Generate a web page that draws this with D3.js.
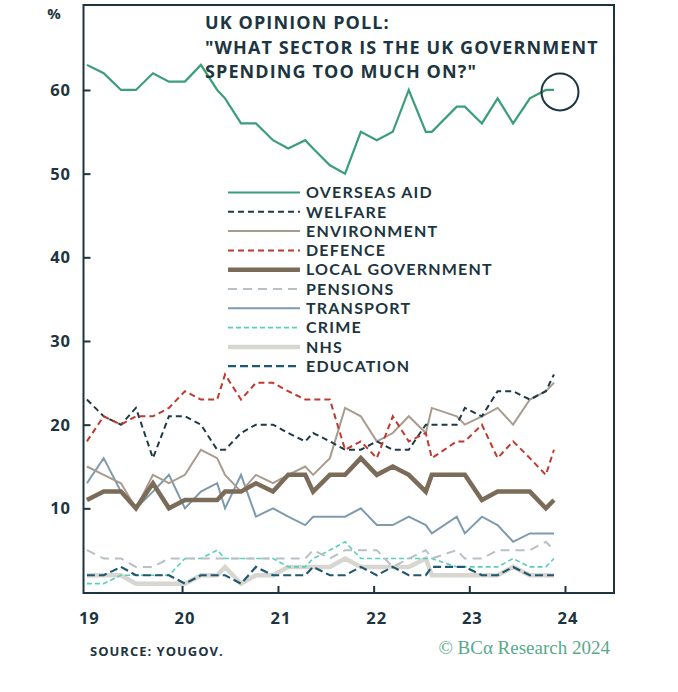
<!DOCTYPE html>
<html>
<head>
<meta charset="utf-8">
<script src="https://cdn.jsdelivr.net/npm/d3@7"></script>
<style>
  html, body { margin: 0; padding: 0; background: #ffffff; }
  svg { display: block; }
</style>
</head>
<body>
<svg id="chart" width="678" height="692"></svg>
<script>
// ---------- DATA ----------
const dates = ["2019-01-03","2019-03-08","2019-05-13","2019-07-09","2019-09-12","2019-11-12",
  "2020-01-12","2020-03-13","2020-05-14","2020-06-13","2020-08-13","2020-10-09","2020-12-13",
  "2021-02-09","2021-04-15","2021-05-15","2021-07-18","2021-09-14","2021-11-13",
  "2022-01-13","2022-03-15","2022-05-15","2022-07-19","2022-08-11","2022-11-14","2022-12-15",
  "2023-02-18","2023-04-19","2023-06-17","2023-08-20","2023-10-20","2023-11-20"];

const overseasAid   = [63,62,60,60,62,61,61,63,60,59,56,56,54,53,54,53,51,50,55,54,55,60,55,55,58,58,56,59,56,59,60,60];
const welfare       = [23,21,20,22,16,21,21,20,17,17,19,20,20,19,18,19,18,17,17,18,17,17,20,20,20,22,21,24,24,23,24,26];
const environment   = [15,14,13,10,14,13,14,17,16,14,12,14,13,14,15,14,16,22,21,18,19,21,19,22,21,20,21,22,20,23,24,25];
const defence       = [18,21,20,21,21,22,24,23,23,26,23,25,25,24,23,23,23,17,18,16,21,18,19,16,18,18,20,16,18,16,14,17];
const localGov      = [11,12,12,10,13,10,11,11,11,12,12,13,12,14,14,12,14,14,16,14,15,14,12,14,14,14,11,12,12,12,10,11];
const pensions      = [5,4,4,3,3,4,4,4,4,4,4,4,4,4,4,5,4,5,5,5,3,4,5,4,5,4,4,5,5,5,6,5];
const transport     = [13,16,12,10,12,14,10,12,13,10,14,9,10,9,8,9,9,9,10,8,8,9,8,7,9,7,9,8,6,7,7,7];
const crime         = [1,1,2,2,2,2,4,4,5,4,4,4,4,3,3,4,5,6,4,4,4,4,4,4,3,3,3,3,4,3,3,4];
const nhs           = [2,2,2,1,1,1,1,2,2,3,1,2,2,3,3,3,3,4,3,3,3,3,4,2,2,2,2,2,3,2,2,2];
const education     = [2,2,3,2,2,2,1,2,2,2,1,3,2,2,2,3,2,2,3,2,3,2,2,3,3,3,2,2,3,2,2,2];

const yTicks = [10,20,30,40,50,60];
const xTickYears = ["2019","2020","2021","2022","2023","2024"];
const xTickLabels = ["19","20","21","22","23","24"];

const seriesNames = ["OVERSEAS AID","WELFARE","ENVIRONMENT","DEFENCE","LOCAL GOVERNMENT",
  "PENSIONS","TRANSPORT","CRIME","NHS","EDUCATION"];
const seriesValues = [overseasAid, welfare, environment, defence, localGov,
  pensions, transport, crime, nhs, education];

// ---------- STYLES ----------
const styles = [
  {color:"#3a9f78", width:2.2, dash:null},
  {color:"#1e3a44", width:2, dash:"6,4"},
  {color:"#a99b8d", width:2, dash:null},
  {color:"#c0392e", width:2, dash:"6,4"},
  {color:"#7b6b59", width:4.5, dash:null},
  {color:"#b8c0c5", width:2, dash:"9,6"},
  {color:"#7e9bae", width:2, dash:null},
  {color:"#58d0b9", width:1.6, dash:"5,3"},
  {color:"#d8d6d0", width:4.5, dash:null},
  {color:"#1f5870", width:2.2, dash:"8,4"}
];
const drawOrder = [8,7,5,9,6,2,4,1,3,0];

const textColor = "#1d3540";
const sans = "'Open Sans', Lato, sans-serif";
const parse = d3.timeParse("%Y-%m-%d");
const dateObjs = dates.map(parse);

const svg = d3.select("#chart");
const plotL = 83.5, plotR = 614, plotT = 5, plotB = 593;

const x = d3.scaleTime()
  .domain([parse("2018-12-21"), parse("2024-07-06")])
  .range([plotL, plotR]);
const y = d3.scaleLinear().domain([0, 70]).range([592, 6.3]);

// frame
svg.append("rect")
  .attr("x", plotL).attr("y", plotT)
  .attr("width", plotR - plotL).attr("height", plotB - plotT)
  .attr("fill", "none").attr("stroke", textColor).attr("stroke-width", 2);

// y axis (inner ticks)
const yAxis = d3.axisRight(y).tickValues(yTicks).tickSize(7).tickFormat("");
const gy = svg.append("g").attr("transform", `translate(${plotL},0)`).call(yAxis);
gy.select(".domain").remove();
gy.selectAll("line").attr("stroke", textColor).attr("stroke-width", 2);

svg.append("g").selectAll("text").data(yTicks).join("text")
  .attr("x", 71).attr("y", d => y(d)).attr("dy", "0.36em")
  .attr("text-anchor", "end").attr("fill", textColor)
  .style("font-family", sans).style("font-size", "16.5px").style("font-weight", 700)
  .style("letter-spacing", "1px")
  .text(d => d);
svg.append("text").attr("x", 54).attr("y", 19).attr("text-anchor", "middle")
  .attr("fill", textColor)
  .style("font-family", sans).style("font-size", "15px").style("font-weight", 700)
  .text("%");

// x axis (inner ticks)
const xTickDates = xTickYears.map(d => parse(d + "-01-01"));
const xAxis = d3.axisTop(x).tickValues(xTickDates.slice(1)).tickSize(7).tickFormat("");
const gx = svg.append("g").attr("transform", `translate(0,${plotB})`).call(xAxis);
gx.select(".domain").remove();
gx.selectAll("line").attr("stroke", textColor).attr("stroke-width", 2);

svg.append("g").selectAll("text").data(xTickDates).join("text")
  .attr("x", d => x(d) + 3).attr("y", 624)
  .attr("text-anchor", "middle").attr("fill", textColor)
  .style("font-family", sans).style("font-size", "16.5px").style("font-weight", 700)
  .style("letter-spacing", "1px")
  .text((d, i) => xTickLabels[i]);

// lines
const line = d3.line().x((d, i) => x(dateObjs[i])).y(d => y(d));
const gl = svg.append("g");
drawOrder.forEach(k => {
  const s = styles[k];
  gl.append("path").datum(seriesValues[k])
    .attr("d", line).attr("fill", "none")
    .attr("stroke", s.color).attr("stroke-width", s.width)
    .attr("stroke-dasharray", s.dash)
    .attr("stroke-linejoin", "miter").attr("stroke-linecap", "butt");
});

// highlight circle around latest overseas aid
const last = overseasAid.length - 1;
svg.append("circle")
  .attr("cx", x(dateObjs[last]) + 6).attr("cy", y(overseasAid[last]) + 2)
  .attr("r", 18.5).attr("fill", "none").attr("stroke", textColor).attr("stroke-width", 2);

// title
const titleLines = ["UK OPINION POLL:", "\"WHAT SECTOR IS THE UK GOVERNMENT", "SPENDING TOO MUCH ON?\""];
svg.append("g").selectAll("text").data(titleLines).join("text")
  .attr("x", 205).attr("y", (d, i) => 29 + i * 24.5)
  .attr("fill", textColor)
  .style("font-family", sans).style("font-size", "18px").style("font-weight", 700)
  .style("letter-spacing", "1.1px")
  .text(d => d);

// legend
const lg = svg.append("g");
seriesNames.forEach((name, i) => {
  const s = styles[i];
  const yy = 192.5 + i * 19.3;
  lg.append("line").attr("x1", 228).attr("x2", 300).attr("y1", yy).attr("y2", yy)
    .attr("stroke", s.color).attr("stroke-width", s.width)
    .attr("stroke-dasharray", s.dash);
  lg.append("text").attr("x", 306).attr("y", yy).attr("dy", "0.36em")
    .attr("fill", textColor)
    .style("font-family", "Lato, 'Open Sans', sans-serif").style("font-size", "16px").style("font-weight", 700)
    .style("letter-spacing", "1.2px")
    .text(name);
});

// footer
svg.append("text").attr("x", 90).attr("y", 656)
  .attr("fill", textColor)
  .style("font-family", sans).style("font-size", "13px").style("font-weight", 700)
  .style("letter-spacing", "1px")
  .text("SOURCE: YOUGOV.");
svg.append("text").attr("x", 610).attr("y", 654).attr("text-anchor", "end")
  .attr("fill", "#5aa98a")
  .style("font-family", "'Liberation Serif', 'DejaVu Serif', serif").style("font-size", "19px")
  .text("© BCα Research 2024");
</script>
</body>
</html>
